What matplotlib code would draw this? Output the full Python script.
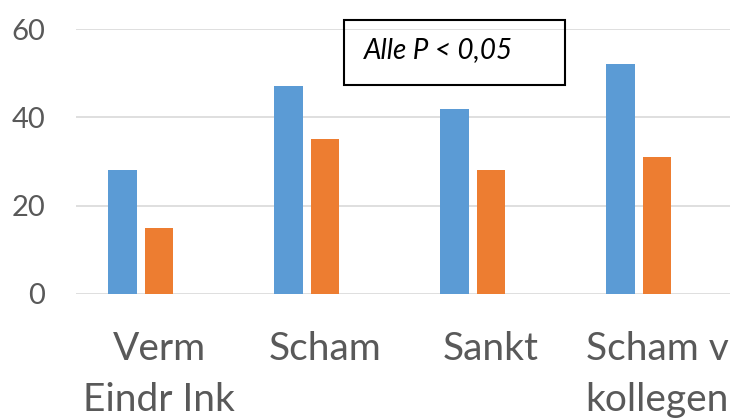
import matplotlib.pyplot as plt
import numpy as np

# survey results per category, two groups
categories = ["Verm\nEindr Ink", "Scham", "Sankt", "Scham v\nkollegen"]
group_blue = [28, 47, 42, 52]
group_orange = [15, 35, 28, 31]
yticks = [0, 20, 40, 60]

plt.rcParams['font.family'] = ['Lato', 'DejaVu Sans']

fig = plt.figure(figsize=(7.3, 4.2), dpi=100)
ax = fig.add_axes([76 / 730, 1 - 294 / 420, 1 - 76 / 730, (294 - 29) / 420])

x = np.arange(len(categories))
w = 0.172
ax.bar(x - 0.22, group_blue, w, color='#5B9BD5', zorder=3)
ax.bar(x, group_orange, w, color='#ED7D31', zorder=3)

ax.set_xlim(-0.5, 3.44)
ax.set_ylim(0, 60)
ax.set_yticks(yticks)
ax.yaxis.grid(True, color='#D9D9D9', linewidth=1.2, zorder=0)
ax.set_xticks(x)
ax.set_xticklabels(categories, fontsize=28, color='#595959', linespacing=1.5)
ax.tick_params(axis='y', labelsize=21, labelcolor='#595959', length=0, pad=22)
ax.tick_params(axis='x', length=0, pad=27)
for s in ax.spines.values():
    s.set_visible(False)

fig.text(364 / 730, 1 - 50 / 420, "Alle P < 0,05", fontsize=20, style='italic',
         va='center', ha='left')
fig.patches.append(plt.Rectangle((344 / 730, 1 - 85 / 420), 221 / 730, 65 / 420,
                                 transform=fig.transFigure, fill=False,
                                 edgecolor='black', linewidth=1.5))

fig.savefig("out.png", dpi=100)
